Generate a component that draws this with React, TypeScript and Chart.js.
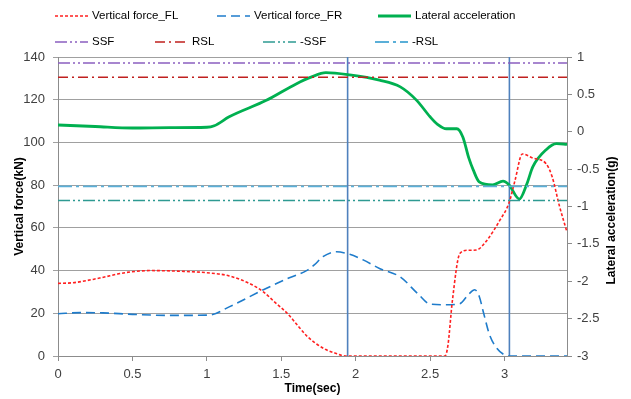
import { useEffect, useRef } from "react";
import { Chart, registerables } from "chart.js";

Chart.register(...registerables);

// ---- Data ----
const flTime = [0, 0.1, 0.28, 0.45, 0.62, 0.82, 1.0, 1.15, 1.3, 1.38, 1.46, 1.54, 1.62, 1.67, 1.74, 1.8, 1.87, 1.93, 2.2, 2.45, 2.6, 2.62, 2.65, 2.7, 2.75, 2.81, 2.88, 2.97, 3.03, 3.07, 3.12, 3.19, 3.28, 3.32, 3.37, 3.42];
const flForce = [34, 34.3, 36.5, 39, 40, 39.7, 39, 37.5, 33.5, 30, 25, 20, 13.5, 9.5, 5.5, 3, 1.2, 0, 0, 0, 0, 5, 26, 48, 49.5, 49.6, 54, 63.7, 71.6, 82, 94.6, 92.7, 90, 84, 70, 58];

const frTime = [0, 0.15, 0.3, 0.5, 0.75, 1.02, 1.15, 1.38, 1.55, 1.67, 1.72, 1.78, 1.87, 1.96, 2.05, 2.16, 2.3, 2.42, 2.5, 2.6, 2.7, 2.76, 2.8, 2.83, 2.86, 2.9, 2.95, 3.0, 3.03, 3.2, 3.42];
const frForce = [19.8, 20.3, 20.2, 19.5, 19, 19.2, 23, 31, 36.5, 40, 42.5, 46.5, 48.8, 47.6, 45, 41, 37, 29, 24.3, 24, 24.5, 29, 31, 28, 20, 9.8, 3.5, 0.5, 0, 0, 0];

const latTime = [0, 0.25, 0.5, 0.75, 1.0, 1.05, 1.15, 1.4, 1.6, 1.7, 1.8, 1.96, 2.16, 2.3, 2.41, 2.5, 2.55, 2.61, 2.68, 2.72, 2.76, 2.79, 2.83, 2.92, 2.99, 3.03, 3.1, 3.15, 3.19, 3.28, 3.35, 3.42];
const latAccel = [0.09, 0.07, 0.05, 0.055, 0.06, 0.08, 0.2, 0.42, 0.64, 0.73, 0.79, 0.76, 0.69, 0.6, 0.42, 0.2, 0.1, 0.04, 0.04, -0.07, -0.35, -0.51, -0.67, -0.71, -0.66, -0.71, -0.9, -0.7, -0.47, -0.24, -0.16, -0.17];

const ssf = 0.92;
const rsl = 0.73;
const negSsf = -0.92;
const negRsl = -0.73;

const markerTimes = [1.946, 3.033];
const markerForce = [0, 140];

const timeRange = [0, 3.42];
const forceRange = [0, 140];
const accelRange = [-3, 1];

const xTitle = "Time(sec)";
const yTitle = "Vertical force(kN)";
const y1Title = "Lateral acceleration(g)";

// ---- Styles ----
const FONT = '"Liberation Sans", Arial, sans-serif';

const legendItems = [
  { label: "Vertical force_FL", color: "#FF2020", dash: [3, 2], width: 1.6, x: 55, row: 0 },
  { label: "Vertical force_FR", color: "#1F7CCB", dash: [9, 5], width: 1.6, x: 217, row: 0 },
  { label: "Lateral acceleration", color: "#00B050", dash: [], width: 2.8, x: 378, row: 0 },
  { label: "SSF", color: "#8A5FC0", dash: [12, 3, 2, 3, 2, 3], width: 1.6, x: 55, row: 1 },
  { label: "RSL", color: "#C0201E", dash: [10, 4, 2, 4], width: 1.6, x: 155, row: 1 },
  { label: "-SSF", color: "#2E9A92", dash: [12, 3, 2, 3, 2, 3], width: 1.6, x: 263, row: 1 },
  { label: "-RSL", color: "#5AAFD8", dash: [14, 4, 3, 4], width: 1.8, x: 375, row: 1 },
];

const pts = (xs: number[], ys: number[]) => xs.map((x, i) => ({ x, y: ys[i] }));
const hline = (v: number) => [{ x: timeRange[0], y: v }, { x: timeRange[1], y: v }];
const fmt = (v: any) => String(Math.round(Number(v) * 10) / 10);

const overlay = {
  id: "overlay",
  afterDraw(chart: any) {
    const { ctx, chartArea } = chart;
    ctx.save();
    ctx.fillStyle = "#000";
    ctx.font = `bold 12px ${FONT}`;
    ctx.textAlign = "center";
    ctx.textBaseline = "middle";
    const midX = (chartArea.left + chartArea.right) / 2;
    const midY = (chartArea.top + chartArea.bottom) / 2;
    ctx.fillText(xTitle, midX, 389);
    ctx.save();
    ctx.translate(20, midY);
    ctx.rotate(-Math.PI / 2);
    ctx.fillText(yTitle, 0, 0);
    ctx.restore();
    ctx.save();
    ctx.translate(612, midY + 14);
    ctx.rotate(-Math.PI / 2);
    ctx.fillText(y1Title, 0, 0);
    ctx.restore();
    // legend
    ctx.font = `11.5px ${FONT}`;
    ctx.textAlign = "left";
    for (const it of legendItems) {
      const y = it.row === 0 ? 16 : 42;
      ctx.beginPath();
      ctx.setLineDash(it.dash);
      ctx.strokeStyle = it.color;
      ctx.lineWidth = it.width;
      ctx.moveTo(it.x, y);
      ctx.lineTo(it.x + 33, y);
      ctx.stroke();
      ctx.setLineDash([]);
      ctx.fillStyle = "#000";
      ctx.fillText(it.label, it.x + 37, y);
    }
    ctx.restore();
  },
};

export default function App() {
  const ref = useRef<HTMLCanvasElement | null>(null);
  useEffect(() => {
    if (!ref.current) return;
    const base = { pointRadius: 0, pointHoverRadius: 0, fill: false };
    const refLine = (v: number, i: number) => ({
      ...base,
      label: legendItems[i].label,
      data: hline(v),
      borderColor: legendItems[i].color,
      borderDash: legendItems[i].dash,
      borderWidth: legendItems[i].width,
      yAxisID: "y1",
    });
    const chart = new Chart(ref.current, {
      type: "line",
      data: {
        datasets: [
          ...markerTimes.map((t) => ({
            ...base,
            label: "marker",
            data: markerForce.map((f) => ({ x: t, y: f })),
            borderColor: "#4F81BD",
            borderWidth: 1.6,
            yAxisID: "y",
            order: 5,
          })),
          refLine(ssf, 3),
          refLine(rsl, 4),
          refLine(negSsf, 5),
          refLine(negRsl, 6),
          {
            ...base,
            label: legendItems[0].label,
            data: pts(flTime, flForce),
            borderColor: legendItems[0].color,
            borderDash: legendItems[0].dash,
            borderWidth: legendItems[0].width,
            cubicInterpolationMode: "monotone",
            yAxisID: "y",
          },
          {
            ...base,
            label: legendItems[1].label,
            data: pts(frTime, frForce),
            borderColor: legendItems[1].color,
            borderDash: legendItems[1].dash,
            borderWidth: legendItems[1].width,
            cubicInterpolationMode: "monotone",
            yAxisID: "y",
          },
          {
            ...base,
            label: legendItems[2].label,
            data: pts(latTime, latAccel),
            borderColor: legendItems[2].color,
            borderWidth: legendItems[2].width,
            cubicInterpolationMode: "monotone",
            yAxisID: "y1",
          },
        ] as any,
      },
      options: {
        animation: false,
        responsive: true,
        maintainAspectRatio: false,
        layout: { padding: { top: 57, left: 0, right: 0, bottom: 0 } },
        plugins: { legend: { display: false }, tooltip: { enabled: false } },
        scales: {
          x: {
            type: "linear",
            min: timeRange[0],
            max: timeRange[1],
            border: { color: "#8C8C8C", width: 1 },
            grid: { drawOnChartArea: false, color: "#8C8C8C", tickLength: 5 },
            ticks: { stepSize: 0.5, includeBounds: false, padding: 6, color: "#404040", font: { family: FONT, size: 13 }, maxRotation: 0, callback: fmt },
            afterFit: (s: any) => { s.height = 43; },
          },
          y: {
            position: "left",
            min: forceRange[0],
            max: forceRange[1],
            border: { color: "#8C8C8C", width: 1 },
            grid: { color: "#A0A0A0", tickLength: 5 },
            ticks: { stepSize: 20, padding: 8, color: "#404040", font: { family: FONT, size: 13 }, callback: fmt },
            afterFit: (s: any) => { s.width = 58; },
          },
          y1: {
            position: "right",
            min: accelRange[0],
            max: accelRange[1],
            border: { color: "#8C8C8C", width: 1 },
            grid: { drawOnChartArea: false, color: "#8C8C8C", tickLength: 5 },
            ticks: { stepSize: 0.5, padding: 5, color: "#404040", font: { family: FONT, size: 13 }, callback: fmt },
            afterFit: (s: any) => { s.width = 64; },
          },
        },
      } as any,
      plugins: [overlay],
    });
    return () => chart.destroy();
  }, []);
  return (
    <div style={{ position: "fixed", left: 0, top: 0, width: 631, height: 399, background: "#fff" }}>
      <canvas ref={ref} />
    </div>
  );
}
